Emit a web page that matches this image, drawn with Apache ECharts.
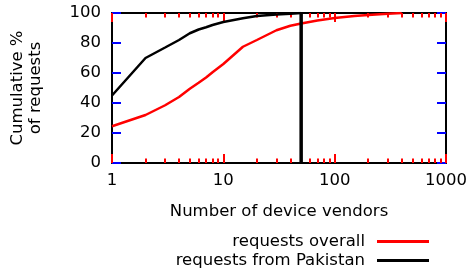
<!DOCTYPE html>
<html>
<head>
<meta charset="utf-8">
<script src="https://cdn.jsdelivr.net/npm/echarts@6/dist/echarts.min.js"></script>
<style>
    html, body {margin: 0; padding: 0; background: #fff;}
    #cdf {width: 470px; height: 274px;}
</style>
</head>
<body>
<div id="cdf"></div>
<script>
// 厂商数量 vs 累计请求百分比
var overallX = [1, 2, 3, 4, 5, 6, 7, 8, 10, 15, 20, 30, 40, 50, 70, 100, 150, 200, 300, 400];
var overallY = [24.5, 32, 38.5, 44, 49.5, 53.5, 57, 60.5, 66, 77.5, 82, 88.5, 91.5, 93, 95, 96.7, 98, 98.7, 99.5, 100];
var pakistanX = [1, 2, 3, 4, 5, 6, 7, 8, 10, 15, 20, 30, 40, 50];
var pakistanY = [45, 70, 77, 82, 86.5, 89, 90.5, 92, 94, 96.5, 98, 99, 99.5, 100];
var cutoffX = 50;
var cutoffY = [0, 100];
var majorX = [1, 10, 100, 1000];
var minorX = [2, 3, 4, 5, 6, 7, 8, 9, 20, 30, 40, 50, 60, 70, 80, 90, 200, 300, 400, 500, 600, 700, 800, 900];
var seriesNames = ['requests overall', 'requests from Pakistan'];

var font = 'DejaVu Sans';
var fs = 16.5;

function pairs(xs, ys) {
    return xs.map(function (x, i) { return [x, ys[i]]; });
}

function xAxisOf(pos, ticks, len, main) {
    var a = {
        type: 'log',
        logBase: 10,
        min: 1,
        max: 1000,
        position: pos,
        axisLine: {show: len > 5, lineStyle: {color: '#000', width: 2}},
        axisTick: {show: true, inside: true, length: len, customValues: ticks,
            lineStyle: {color: '#f00', width: 2}},
        axisLabel: {show: main, customValues: majorX, margin: 9, color: '#000',
            fontFamily: font, fontSize: fs,
            formatter: function (v) { return String(v); }},
        splitLine: {show: false}
    };
    if (main) {
        a.name = 'Number of device vendors';
        a.nameLocation = 'middle';
        a.nameGap = 40;
        a.nameTextStyle = {color: '#000', fontFamily: font, fontSize: fs};
    }
    return a;
}

function yAxisOf(pos, main) {
    var a = {
        type: 'value',
        min: 0,
        max: 100,
        interval: 20,
        position: pos,
        axisLine: {show: true, lineStyle: {color: '#000', width: 2}},
        axisTick: {show: true, inside: true, length: 9, lineStyle: {color: '#00f', width: 2}},
        axisLabel: {show: main, margin: 11, color: '#000', fontFamily: font, fontSize: fs},
        splitLine: {show: false}
    };
    if (main) {
        a.name = 'Cumulative %\nof requests';
        a.nameLocation = 'middle';
        a.nameGap = 67;
        a.nameRotate = 90;
        a.nameTextStyle = {color: '#000', fontFamily: font, fontSize: fs, lineHeight: 18};
    }
    return a;
}

function legendOf(name, top) {
    return {
        data: [name],
        right: 41,
        top: top,
        align: 'right',
        padding: 0,
        icon: 'rect',
        itemWidth: 52,
        itemHeight: 3,
        selectedMode: false,
        textStyle: {color: '#000', fontFamily: font, fontSize: fs, padding: [0, 7, 0, 0]}
    };
}

var myChart = echarts.init(document.getElementById('cdf'));
var option = {
    animation: false,
    grid: {left: 112, right: 22, top: 13, bottom: 111},
    legend: [legendOf(seriesNames[0], 233), legendOf(seriesNames[1], 252)],
    xAxis: [
        xAxisOf('bottom', majorX, 9, true),
        xAxisOf('bottom', minorX, 4.5, false),
        xAxisOf('top', majorX, 9, false),
        xAxisOf('top', minorX, 4.5, false)
    ],
    yAxis: [yAxisOf('left', true), yAxisOf('right', false)],
    series: [
        {
            name: seriesNames[0],
            type: 'line',
            symbol: 'none',
            color: '#ff0000',
            lineStyle: {width: 2.5, color: '#ff0000'},
            data: pairs(overallX, overallY)
        },
        {
            name: seriesNames[1],
            type: 'line',
            symbol: 'none',
            color: '#000000',
            lineStyle: {width: 2.5, color: '#000000'},
            data: pairs(pakistanX, pakistanY)
        },
        {
            name: 'cutoff',
            type: 'line',
            symbol: 'none',
            color: '#000000',
            lineStyle: {width: 3.5, color: '#000000'},
            data: cutoffY.map(function (y) { return [cutoffX, y]; })
        }
    ]
};
myChart.setOption(option);
</script>
</body>
</html>
